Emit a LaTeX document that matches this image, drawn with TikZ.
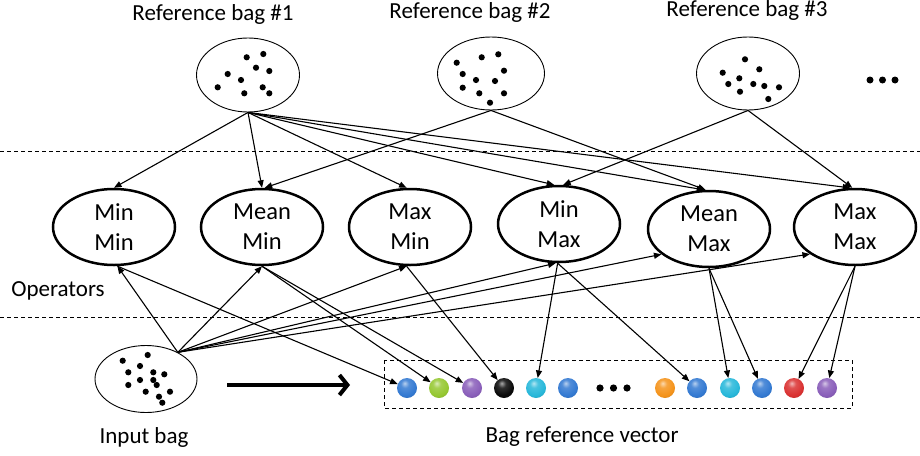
\documentclass[tikz,border=0pt]{standalone}
\usepackage{fontspec}
\setmainfont{Carlito}
\usetikzlibrary{shapes.geometric,arrows.meta}
\definecolor{cblue}{RGB}{52,122,210}
\definecolor{cgreen}{RGB}{150,200,50}
\definecolor{cpurple}{RGB}{138,95,186}
\definecolor{cblack}{RGB}{10,10,10}
\definecolor{ccyan}{RGB}{40,184,218}
\definecolor{corange}{RGB}{245,148,28}
\definecolor{cred}{RGB}{218,50,50}
\makeatletter
\pgfdeclareradialshading[tikz@ball]{glossyball}{\pgfqpoint{-6bp}{12bp}}{%
  color(0bp)=(tikz@ball!35!white); color(10bp)=(tikz@ball!85!white);
  color(26bp)=(tikz@ball); color(42bp)=(tikz@ball!82!black);
  color(60bp)=(tikz@ball!60!black); color(80bp)=(tikz@ball!60!black)}
\makeatother
\tikzset{
  opnode/.style={ellipse, draw, line width=2.5pt, minimum width=122pt, minimum height=76pt, inner sep=0pt, align=center, font=\fontsize{24.5}{30}\selectfont},
  bagnode/.style={ellipse, draw, line width=0.9pt, inner sep=0pt},
  lbl/.style={font=\fontsize{23}{28}\selectfont, inner sep=0pt},
  arr/.style={line width=1.1pt, -{Triangle[length=7.5pt,width=6pt]}},
  sep/.style={dashed, dash pattern=on 4pt off 3pt, line width=0.9pt},
  ballnode/.style={circle, inner sep=0pt, minimum size=20pt, shading=glossyball},
  bigarrow/.style={line width=4pt, -{Straight Barb[length=8pt,width=20pt]}}
}
\begin{document}
\begin{tikzpicture}[x=1pt,y=-1pt]
\useasboundingbox (0,0) rectangle (920,455);

% separators
\coordinate (s1a) at (0,151); \coordinate (s1b) at (920,151);
\coordinate (s2a) at (0,317); \coordinate (s2b) at (920,317);
\draw[sep] (s1a) -- (s1b);
\draw[sep] (s2a) -- (s2b);

% labels
\node[lbl] (l1) at (213,14) {Reference bag \#1};
\node[lbl] (l2) at (470,12) {Reference bag \#2};
\node[lbl] (l3) at (747,10) {Reference bag \#3};
\node[lbl] (lop) at (58,291) {Operators};
\node[lbl] (lin) at (144,437) {Input bag};
\node[lbl] (lvec) at (582,437) {Bag reference vector};

% reference bags
\node[bagnode, minimum width=103pt, minimum height=74pt] (b1) at (248,75) {};
\node[bagnode, minimum width=107pt, minimum height=73pt] (b2) at (491,73.5) {};
\node[bagnode, minimum width=103pt, minimum height=73pt] (b3) at (748,73.5) {};
\node[bagnode, minimum width=102pt, minimum height=67pt] (ib) at (146,379) {};

% dots bag 1
\foreach \p in {(246.7,57.3),(263.3,54),(256,67.7),(269.3,71),(227.7,74),(241,80),(217.7,87.3),(244.3,93.3),(262.7,87.3),(269.3,93.3)}
  \fill \p circle (3.1);
% dots bag 2
\foreach \p in {(456.7,62.7),(481.7,57.3),(498.3,54.3),(462.7,74),(504,70.7),(476,80),(495,81),(462.7,87.7),(479.3,93.3),(504,93.3),(490,102.7)}
  \fill \p circle (3.1);
% dots bag 3
\foreach \p in {(745,59.3),(759.3,69.3),(722.7,72.7),(739.3,78.3),(728.3,84),(753.3,84),(764.3,86),(779,87.3),(740,91.7),(768.3,99)}
  \fill \p circle (3.1);
% dots input bag
\foreach \p in {(122.7,360.7),(147.7,355),(140,366),(128.3,372.3),(153.3,372.3),(164.3,374.3),(140,380),(153.3,380),(128.3,385),(156.7,385),(145.7,391.7),(170,391.7),(159,396.7),(162.3,402.7)}
  \fill \p circle (3.1);
% ellipsis top right
\foreach \x in {870,882.5,895}
  \fill (\x,80) circle (3.5);

% operators
\node[opnode] (mm) at (114,227) {Min\\Min};
\node[opnode] (en) at (262,227) {Mean\\Min};
\node[opnode] (xn) at (410,227) {Max\\Min};
\node[opnode] (nx) at (559,224) {Min\\Max};
\node[opnode] (ex) at (709,229) {Mean\\Max};
\node[opnode] (xx) at (855,227) {Max\\Max};

% vector
\coordinate (vb1) at (384,360); \coordinate (vb2) at (852,408);
\draw[dashed, dash pattern=on 4pt off 3pt, line width=1pt] (vb1) rectangle (vb2);
\node[ball color=cblue, ballnode] (v1) at (407,388) {};
\node[ball color=cgreen, ballnode] (v2) at (439,388) {};
\node[ball color=cpurple, ballnode] (v3) at (472,388) {};
\node[ball color=cblack, ballnode] (v4) at (504,388) {};
\node[ball color=ccyan, ballnode] (v5) at (536,388) {};
\node[ball color=cblue, ballnode] (v6) at (568,388) {};
\foreach \x in {600,613.5,627}
  \fill (\x,388) circle (3.6);
\node[ball color=corange, ballnode] (v7) at (665,388) {};
\node[ball color=cblue, ballnode] (v8) at (697,388) {};
\node[ball color=ccyan, ballnode] (v9) at (730,388) {};
\node[ball color=cblue, ballnode] (v10) at (762,388) {};
\node[ball color=cred, ballnode] (v11) at (794,388) {};
\node[ball color=cpurple, ballnode] (v12) at (827,388) {};

% big arrow
\coordinate (ba1) at (227,385); \coordinate (ba2) at (350,385);
\draw[bigarrow] (ba1) -- (ba2);

% reference bags -> operators
\draw[arr] (b1.south) -- (mm.north);
\draw[arr] (b1.south) -- (en.north);
\draw[arr] (b1.south) -- (xn.95);
\draw[arr] (b1.south) -- (nx.97);
\draw[arr] (b1.south) -- (ex.97);
\draw[arr] (b1.south) -- (xx.97);
\draw[arr] (b2.south) -- (en.86);
\draw[arr] (b2.south) -- (ex.95);
\draw[arr] (b3.south) -- (nx.84);
\draw[arr] (b3.south) -- (xx.94);

% input bag -> operators
\draw[arr] (ib.40) -- (mm.275);
\draw[arr] (ib.40) -- (en.south);
\draw[arr] (ib.40) -- (xn.265);
\draw[arr] (ib.40) -- (nx.265);
\draw[arr] (ib.40) -- (ex.208);
\draw[arr] (ib.40) -- (xx.211);

% operators -> vector
\draw[arr] (mm.275) -- (v1);
\draw[arr] (en.south) -- (v2);
\draw[arr] (en.south) -- (v3);
\draw[arr] (xn.265) -- (v4);
\draw[arr] (nx.268) -- (v5);
\draw[arr] (nx.268) -- (v8);
\draw[arr] (ex.south) -- (v9);
\draw[arr] (ex.south) -- (v10);
\draw[arr] (xx.south) -- (v11);
\draw[arr] (xx.south) -- (v12);
\end{tikzpicture}
\end{document}
